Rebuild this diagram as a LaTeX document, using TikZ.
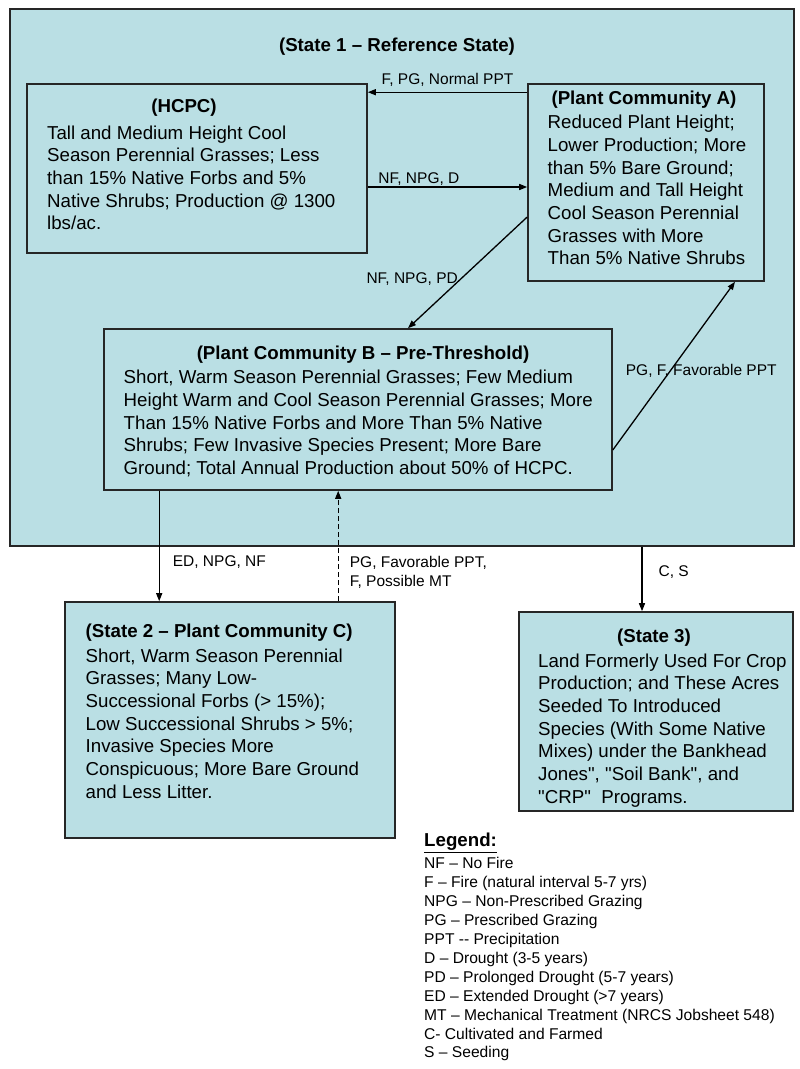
\documentclass[tikz,border=0pt]{standalone}
\usepackage{fontspec}
\setmainfont{Liberation Sans}[Ligatures=TeXOff]
\usetikzlibrary{
    arrows.meta,
    positioning,
    calc
}
\definecolor{stateblue}{RGB}{186,223,228}
\tikzset{
    % --- State / community box (outline, text set separately) ---
    block/.style = {
        rectangle, draw=black!85, line width=1.6pt,
        fill=stateblue, inner sep=0pt
    },
    % --- Bold heading of a box ---
    heading/.style = {
        font=\fontsize{18.7}{22}\selectfont\bfseries,
        inner sep=0pt
    },
    % --- Description inside a box ---
    body/.style = {
        font=\fontsize{18.7}{22.7}\selectfont,
        align=left, inner sep=0pt, anchor=north west
    },
    % --- Label on a transition ---
    signal/.style = {
        font=\fontsize{15.5}{19}\selectfont,
        align=left, inner sep=0pt
    },
    % --- Transition arrow ---
    data arrow/.style = {
        -{Triangle[length=8pt, width=6pt]}, line width=1.3pt
    },
    % --- Possible transition (dashed) ---
    ctrl arrow/.style = {
        data arrow, dash pattern=on 5pt off 3pt
    },
    % --- Legend entries ---
    legend text/.style = {
        font=\fontsize{15.6}{18.9}\selectfont,
        align=left, inner sep=0pt, anchor=north west
    }
}

\begin{document}
\begin{tikzpicture}[x=1pt, y=-1pt]

\useasboundingbox (0,0) rectangle (800,1069);

% ---------------------------------------------------------
% State 1 (reference state)
% ---------------------------------------------------------
\node[block, minimum width=784, minimum height=537] (State1) at (402,277.5) {};
\node[heading] (State1Title) at (397,47) {(State 1 – Reference State)};

% HCPC
\node[block, minimum width=340, minimum height=169] (Hcpc) at (197,168.5) {};
\node[heading] (HcpcTitle) at (184,108) {(HCPC)};
\node[body] (HcpcText) at (47,125.3) {%
    Tall and Medium Height Cool\\
    Season Perennial Grasses; Less\\
    than 15\% Native Forbs and 5\%\\
    Native Shrubs; Production @ 1300\\
    lbs/ac.};

% Plant Community A
\node[block, minimum width=236, minimum height=197] (PcA) at (646,182.5) {};
\node[heading] (PcATitle) at (644,100) {(Plant Community A)};
\node[body] (PcAText) at (547.5,115) {%
    Reduced Plant Height;\\
    Lower Production; More\\
    than 5\% Bare Ground;\\
    Medium and Tall Height\\
    Cool Season Perennial\\
    Grasses with More\\
    Than 5\% Native Shrubs};

% Plant Community B
\node[block, minimum width=508, minimum height=161] (PcB) at (358,409.5) {};
\node[heading] (PcBTitle) at (363,355) {(Plant Community B – Pre-Threshold)};
\node[body] (PcBText) at (123.5,370) {%
    Short, Warm Season Perennial Grasses; Few Medium\\
    Height Warm and Cool Season Perennial Grasses; More\\
    Than 15\% Native Forbs and More Than 5\% Native\\
    Shrubs; Few Invasive Species Present; More Bare\\
    Ground; Total Annual Production about 50\% of HCPC.};

% ---------------------------------------------------------
% State 2 and State 3
% ---------------------------------------------------------
\node[block, minimum width=330, minimum height=236] (S2) at (230,720) {};
\node[heading, anchor=west] (S2Title) at (85.5,633) {(State 2 – Plant Community C)};
\node[body] (S2Text) at (85.5,648.3) {%
    Short, Warm Season Perennial\\
    Grasses; Many Low-\\
    Successional Forbs (> 15\%);\\
    Low Successional Shrubs > 5\%;\\
    Invasive Species More\\
    Conspicuous; More Bare Ground\\
    and Less Litter.};

\node[block, minimum width=274, minimum height=199] (S3) at (656,711.5) {};
\node[heading] (S3Title) at (654,638) {(State 3)};
\node[body] (S3Text) at (538,653.3) {%
    Land Formerly Used For Crop\\
    Production; and These Acres\\
    Seeded To Introduced\\
    Species (With Some Native\\
    Mixes) under the Bankhead\\
    Jones", "Soil Bank", and\\
    "CRP"\ \ Programs.};

% ---------------------------------------------------------
% Transitions inside State 1
% ---------------------------------------------------------
\coordinate (RecStart) at ([yshift=-9pt]PcA.north west);
\draw[data arrow] (RecStart) -- (RecStart -| Hcpc.east)
    node[signal, midway, above=5pt] {F, PG, Normal PPT};

\coordinate (DegStart) at ([yshift=-18.5pt]Hcpc.east);
\draw[data arrow] (DegStart) -- (DegStart -| PcA.west)
    node[signal, pos=0, above right=1pt and 10pt] {NF, NPG, D};

\coordinate (PdStart) at ([yshift=-34.5pt]PcA.west);
\coordinate (PdEnd) at ([xshift=50pt]PcB.north);
\draw[data arrow] (PdStart) -- (PdEnd)
    node[signal, pos=0.56, left=2pt] {NF, NPG, PD};

\coordinate (RecovStart) at ([yshift=-40.5pt]PcB.east);
\coordinate (RecovEnd) at ([xshift=89pt]PcA.south);
\draw[data arrow] (RecovStart) -- (RecovEnd)
    node[signal, pos=0.47, xshift=31pt] {PG, F, Favorable PPT};

% ---------------------------------------------------------
% Transitions between states
% ---------------------------------------------------------
\coordinate (EdStart) at ([xshift=56pt]PcB.south west);
\draw[data arrow] (EdStart) -- (EdStart |- S2.north)
    node[signal, pos=0.65, right=13pt] {ED, NPG, NF};

\coordinate (MtStart) at ([xshift=274pt]S2.north west);
\draw[ctrl arrow] (MtStart) -- (MtStart |- PcB.south)
    node[signal, pos=0.26, right=11pt] {PG, Favorable PPT,\\F, Possible MT};

\coordinate (CsEnd) at ([xshift=-14pt]S3.north);
\draw[data arrow] (CsEnd |- State1.south) -- (CsEnd)
    node[signal, pos=0.4, right=16pt] {C, S};

% ---------------------------------------------------------
% Legend
% ---------------------------------------------------------
\node[heading, anchor=west] (LegendTitle) at (424,843) {\underline{Legend:}};
\node[legend text] (LegendText) at (424,857.4) {%
    NF – No Fire\\
    F – Fire (natural interval 5-7 yrs)\\
    NPG – Non-Prescribed Grazing\\
    PG – Prescribed Grazing\\
    PPT -- Precipitation\\
    D – Drought (3-5 years)\\
    PD – Prolonged Drought (5-7 years)\\
    ED – Extended Drought (>7 years)\\
    MT – Mechanical Treatment (NRCS Jobsheet 548)\\
    C- Cultivated and Farmed\\
    S – Seeding};

\end{tikzpicture}
\end{document}
